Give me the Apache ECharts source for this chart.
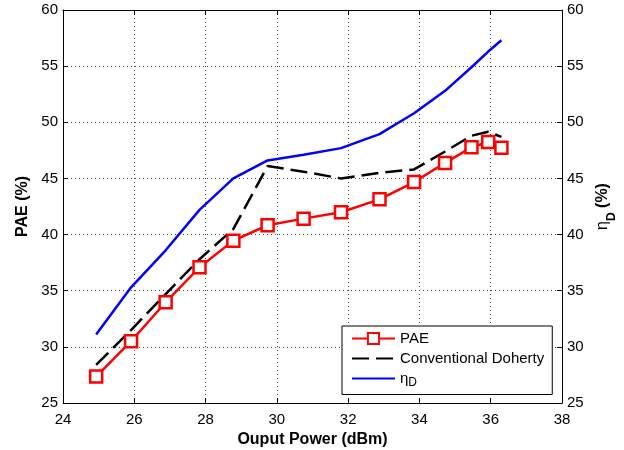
<!DOCTYPE html>
<html>
<head>
<meta charset="utf-8">
<script src="https://cdn.jsdelivr.net/npm/echarts@6/dist/echarts.min.js"></script>
<style>html,body{margin:0;padding:0;background:#fff}#c{width:624px;height:450px}</style>
</head>
<body>
<div id="c"></div>
<script>
var outputPower = [24.93, 25.91, 26.88, 27.83, 28.78, 29.74, 30.75, 31.80, 32.88, 33.85, 34.72, 35.46, 35.93, 36.30];
var paeValues = [27.35, 30.50, 33.97, 37.09, 39.46, 40.83, 41.42, 41.99, 43.14, 44.68, 46.38, 47.77, 48.25, 47.74];
var dohertyValues = [28.4, 31.5, 34.7, 37.8, 40.5, 46.1, 45.6, 45.0, 45.5, 45.8, 47.4, 48.8, 49.15, 48.7];
var etaDValues = [31.1, 35.3, 38.6, 42.2, 45.0, 46.6, 47.1, 47.7, 48.95, 50.8, 52.8, 54.9, 56.3, 57.3];
var seriesNames = ['PAE', 'Conventional Doherty', 'ηD'];
var xTicks = {min: 24, max: 38, step: 2};
var yTicks = {min: 25, max: 60, step: 5};

function pairs(xs, ys) { return xs.map(function (x, i) { return [x, ys[i]]; }); }

var font = 'Liberation Sans, Arial, Helvetica, sans-serif';
var gridLine = {show: true, lineStyle: {color: '#444', type: [1, 3], width: 1}};
var hiddenSymbol = {opacity: 0, color: 'transparent', borderWidth: 0};
var chart = echarts.init(document.getElementById('c'), null, {renderer: 'canvas'});
chart.setOption({
  animation: false,
  backgroundColor: '#fff',
  textStyle: {fontFamily: font},
  grid: {left: 63, right: 62, top: 10, bottom: 47, containLabel: false, outerBoundsMode: 'none'},
  xAxis: [{
    type: 'value', min: xTicks.min, max: xTicks.max, interval: xTicks.step,
    name: 'Ouput Power (dBm)', nameLocation: 'middle', nameGap: 27,
    nameTextStyle: {fontSize: 16, fontWeight: 'bold', color: '#000', fontFamily: font},
    axisLine: {show: true, onZero: false, lineStyle: {color: '#000', width: 1}},
    axisTick: {show: true, inside: true, length: 5, lineStyle: {color: '#000'}},
    axisLabel: {fontSize: 15, color: '#000', margin: 9, fontFamily: font},
    splitLine: gridLine
  }, {
    type: 'value', position: 'top', min: xTicks.min, max: xTicks.max, interval: xTicks.step,
    axisLine: {show: true, onZero: false, lineStyle: {color: '#000', width: 1}},
    axisTick: {show: true, inside: true, length: 5, lineStyle: {color: '#000'}},
    axisLabel: {show: false}, splitLine: {show: false}
  }],
  yAxis: [{
    type: 'value', min: yTicks.min, max: yTicks.max, interval: yTicks.step,
    name: 'PAE (%)', nameLocation: 'middle', nameGap: 29, nameRotate: 90,
    nameTextStyle: {fontSize: 16, fontWeight: 'bold', color: '#000', fontFamily: font},
    axisLine: {show: true, onZero: false, lineStyle: {color: '#000', width: 1}},
    axisTick: {show: true, inside: true, length: 5, lineStyle: {color: '#000'}},
    axisLabel: {fontSize: 15, color: '#000', margin: 5, fontFamily: font},
    splitLine: gridLine
  }, {
    type: 'value', position: 'right', min: yTicks.min, max: yTicks.max, interval: yTicks.step,
    name: '{n|η}{s|D}{b| (%)}', nameLocation: 'middle', nameGap: 27, nameRotate: 90,
    nameTextStyle: {
      color: '#000', fontFamily: font,
      rich: {
        n: {fontSize: 16, color: '#000', fontFamily: font, verticalAlign: 'top', lineHeight: 18},
        s: {fontSize: 12, fontWeight: 'bold', color: '#000', fontFamily: font, padding: [8, 0, 0, 0], lineHeight: 26},
        b: {fontSize: 16, fontWeight: 'bold', color: '#000', fontFamily: font, verticalAlign: 'top', lineHeight: 18}
      }
    },
    axisLine: {show: true, onZero: false, lineStyle: {color: '#000', width: 1}},
    axisTick: {show: true, inside: true, length: 5, lineStyle: {color: '#000'}},
    axisLabel: {fontSize: 15, color: '#000', margin: 5, fontFamily: font},
    splitLine: {show: false}
  }],
  legend: {
    orient: 'vertical', left: 342, top: 326,
    padding: [5, 8, 6, 9], itemGap: 5, itemWidth: 43, itemHeight: 14, itemTextGap: 11,
    borderColor: '#000', borderWidth: 1, backgroundColor: '#fff',
    data: [
      {name: seriesNames[0]},
      {name: seriesNames[1], itemStyle: hiddenSymbol},
      {name: seriesNames[2], itemStyle: hiddenSymbol}
    ],
    formatter: function (n) { return n === 'ηD' ? '{n|η}{s|D}' : n; },
    textStyle: {
      fontSize: 15, color: '#000', fontFamily: font,
      rich: {
        n: {fontSize: 15, color: '#000', fontFamily: font},
        s: {fontSize: 12, color: '#000', fontFamily: font, padding: [8, 0, 0, 0]}
      }
    }
  },
  series: [{
    name: seriesNames[2], type: 'line', data: pairs(outputPower, etaDValues),
    symbol: 'none', lineStyle: {color: '#0000ff', width: 2.5}, itemStyle: {color: '#0000ff'}, z: 2
  }, {
    name: seriesNames[1], type: 'line', data: pairs(outputPower, dohertyValues),
    symbol: 'none', lineStyle: {color: '#000', width: 2.5, type: [17, 7]}, itemStyle: {color: '#000'}, z: 3
  }, {
    name: seriesNames[0], type: 'line', data: pairs(outputPower, paeValues),
    symbol: 'rect', symbolSize: 12,
    lineStyle: {color: '#ff0000', width: 2.5},
    itemStyle: {color: '#fff', borderColor: '#ff0000', borderWidth: 2.5}, z: 4
  }]
});
</script>
</body>
</html>
